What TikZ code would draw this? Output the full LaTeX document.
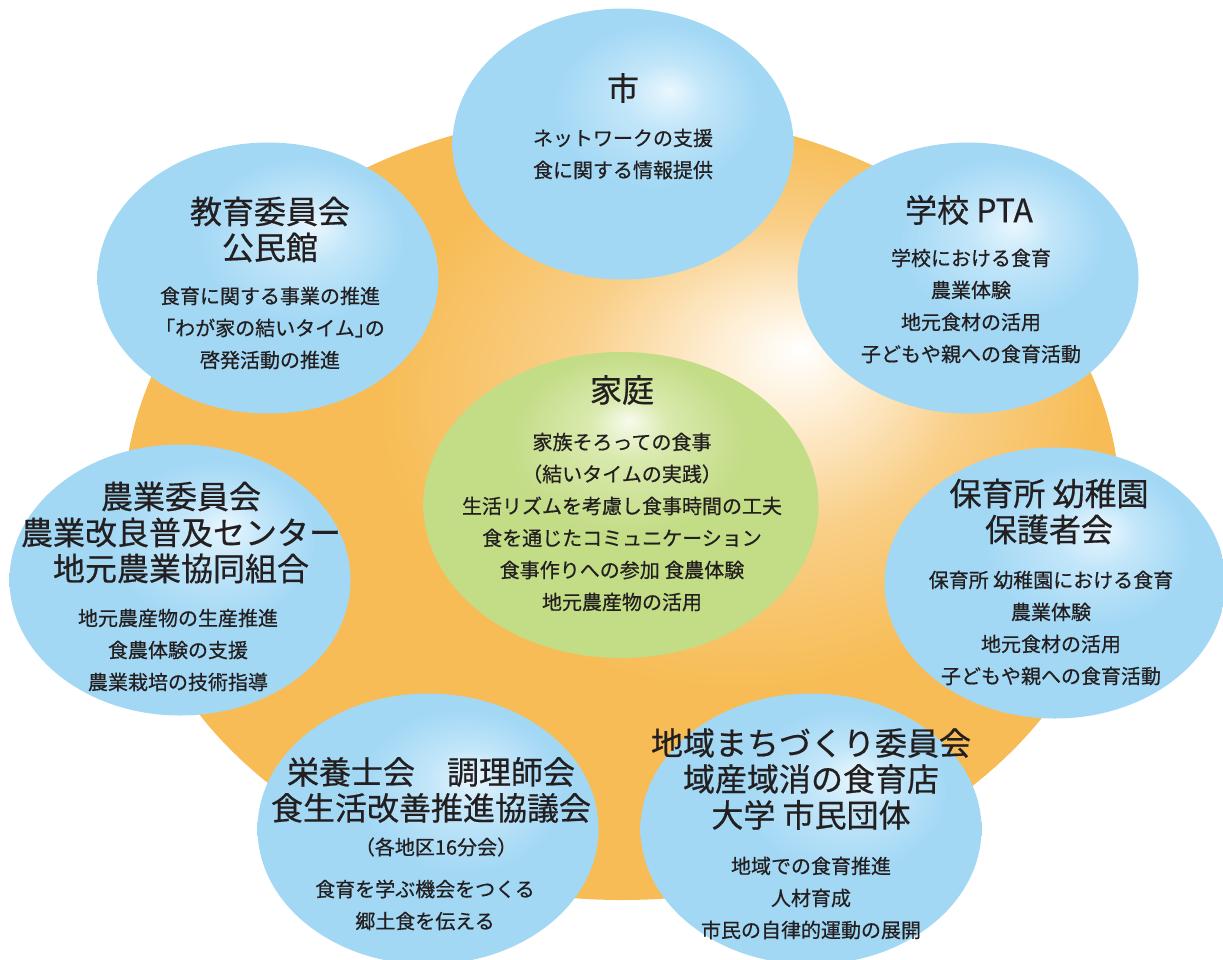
\documentclass[tikz,border=0pt]{standalone}
\usepackage{fontspec}
\usepackage{xcolor}
\usepackage{tikz}
\usetikzlibrary{shapes.geometric}

\newfontfamily\jpfont[FakeBold=0.6]{Noto Sans CJK JP}

\definecolor{inkgray}{HTML}{231F20}
\definecolor{orangeedge}{HTML}{F7BC55}
\definecolor{orangemid}{HTML}{F9CE86}
\definecolor{orangelight}{HTML}{FEF1DB}
\definecolor{bubbleblue}{HTML}{A3D8F5}
\definecolor{bubblemid}{HTML}{C2E6F9}
\definecolor{bubblelight}{HTML}{EAF7FE}
\definecolor{homegreen}{HTML}{C3DC86}
\definecolor{homemid}{HTML}{D9EAAE}
\definecolor{homelight}{HTML}{F7FBEC}

% soft light spots, offset towards the upper right
\pgfdeclareradialshading{orangeglow}{\pgfpoint{9bp}{10bp}}{color(0bp)=(white); color(3bp)=(orangelight); color(10bp)=(orangemid); color(18bp)=(orangeedge); color(50bp)=(orangeedge)}
\pgfdeclareradialshading{bubbleglow}{\pgfpoint{7bp}{10bp}}{color(0bp)=(bubblelight); color(6bp)=(bubblemid); color(15bp)=(bubbleblue); color(50bp)=(bubbleblue)}
\pgfdeclareradialshading{homeglow}{\pgfpoint{1bp}{14bp}}{color(0bp)=(homelight); color(5bp)=(homemid); color(15bp)=(homegreen); color(50bp)=(homegreen)}

\begin{document}
\begin{tikzpicture}[x=1pt, y=-1pt,
	bubble/.style={ellipse, draw=none, inner sep=0pt, shading=bubbleglow,
		minimum width=341pt, minimum height=271pt},
	home/.style={ellipse, draw=none, inner sep=0pt, shading=homeglow,
		minimum width=395pt, minimum height=306pt},
	head/.style={font=\jpfont\fontsize{32}{36}\selectfont, text=inkgray, align=center, inner sep=0pt},
	body/.style={font=\jpfont\fontsize{20}{32}\selectfont, text=inkgray, align=center, inner sep=0pt}]

	\useasboundingbox (0,0) rectangle (1223,959);

	% background disc
	\node [ellipse, draw=none, inner sep=0pt, shading=orangeglow,
		minimum width=996pt, minimum height=788pt] (disc) at (622,506) {};

	% centre: the household
	\node [home] (home) at (621,505) {};
	\node [head] (home-t) at (622,390) {家庭};
	\node [body] (home-b) at (622,522) {家族そろっての食事\\（結いタイムの実践）\\生活リズムを考慮し食事時間の工夫\\食を通じたコミュニケーション\\食事作りへの参加 食農体験\\地元農産物の活用};

	% surrounding partners
	\node [bubble] (city) at (623,144) {};
	\node [head] (city-t) at (623,88) {市};
	\node [body] (city-b) at (623,154) {ネットワークの支援\\食に関する情報提供};

	\node [bubble] (board) at (268,278) {};
	\node [head] (board-t) at (270,229.5) {教育委員会\\公民館};
	\node [body] (board-b) at (270,328) {食育に関する事業の推進\\「わが家の結いタイム」\kern-0.5em の\\啓発活動の推進};

	\node [bubble] (school) at (968,278) {};
	\node [head] (school-t) at (969,210) {学校 PTA};
	\node [body] (school-b) at (971,306) {学校における食育\\農業体験\\地元食材の活用\\子どもや親への食育活動};

	\node [bubble] (farm) at (180,580) {};
	\node [head] (farm-t) at (181,532.5) {農業委員会\\農業改良普及センター\\地元農業協同組合};
	\node [body] (farm-b) at (178,650) {地元農産物の生産推進\\食農体験の支援\\農業栽培の技術指導};

	\node [bubble] (nursery) at (1055,583) {};
	\node [head] (nursery-t) at (1049,511.5) {保育所 幼稚園\\保護者会};
	\node [body] (nursery-b) at (1051,628) {保育所 幼稚園における食育\\農業体験\\地元食材の活用\\子どもや親への食育活動};

	\node [bubble] (diet) at (428,829) {};
	\node [head] (diet-t) at (431,790) {栄養士会　調理師会\\食生活改善推進協議会};
	\node [body] (diet-n) at (436,847) {（各地区16分会）};
	\node [body] (diet-b) at (425,905) {食育を学ぶ機会をつくる\\郷土食を伝える};

	\node [bubble] (town) at (811,829) {};
	\node [head] (town-t) at (811,779) {地域まちづくり委員会\\域産域消の食育店\\大学 市民団体};
	\node [body] (town-b) at (811,898) {地域での食育推進\\人材育成\\市民の自律的運動の展開};
\end{tikzpicture}
\end{document}
